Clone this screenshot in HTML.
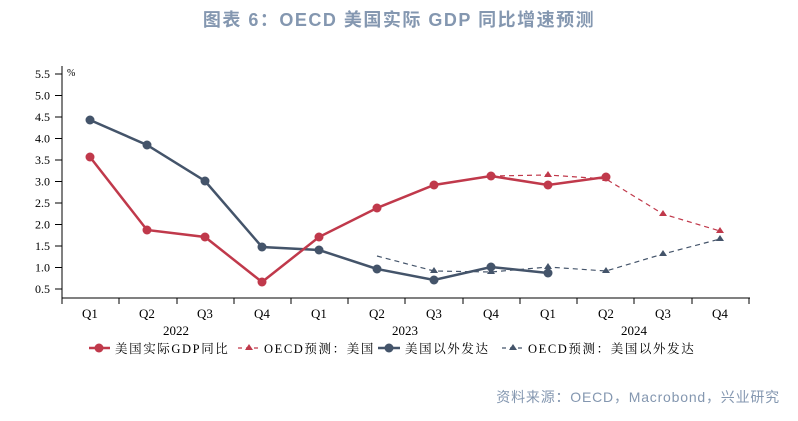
<!DOCTYPE html>
<html><head><meta charset="utf-8"><style>
body{margin:0;background:#fff;width:798px;height:416px;overflow:hidden}
text{font-family:"Liberation Serif","Noto Serif CJK SC",serif}
</style></head><body>
<svg width="798" height="416" xmlns="http://www.w3.org/2000/svg">
<text x="399" y="26" text-anchor="middle" font-size="18" font-weight="bold" fill="#8497b0" letter-spacing="1.5" style="font-family:'Liberation Sans','Noto Sans CJK SC',sans-serif">图表 6：OECD 美国实际 GDP 同比增速预测</text>
<g stroke="#000" stroke-width="1">
<line x1="62" y1="66" x2="62" y2="298"/>
<line x1="62" y1="298" x2="750" y2="298"/>
<line x1="55" y1="74" x2="62" y2="74"/><line x1="55" y1="95.5" x2="62" y2="95.5"/><line x1="55" y1="117" x2="62" y2="117"/><line x1="55" y1="138.5" x2="62" y2="138.5"/><line x1="55" y1="160" x2="62" y2="160"/><line x1="55" y1="181.5" x2="62" y2="181.5"/><line x1="55" y1="203" x2="62" y2="203"/><line x1="55" y1="224.5" x2="62" y2="224.5"/><line x1="55" y1="246" x2="62" y2="246"/><line x1="55" y1="267.5" x2="62" y2="267.5"/><line x1="55" y1="289" x2="62" y2="289"/>
<line x1="62" y1="298" x2="62" y2="304"/><line x1="119" y1="298" x2="119" y2="304"/><line x1="177" y1="298" x2="177" y2="304"/><line x1="234" y1="298" x2="234" y2="304"/><line x1="291" y1="298" x2="291" y2="304"/><line x1="348" y1="298" x2="348" y2="304"/><line x1="405" y1="298" x2="405" y2="304"/><line x1="463" y1="298" x2="463" y2="304"/><line x1="520" y1="298" x2="520" y2="304"/><line x1="577" y1="298" x2="577" y2="304"/><line x1="634" y1="298" x2="634" y2="304"/><line x1="692" y1="298" x2="692" y2="304"/><line x1="749" y1="298" x2="749" y2="304"/>
</g>
<g font-size="12" text-anchor="end" fill="#000">
<text x="50" y="78">5.5</text><text x="50" y="99.5">5.0</text><text x="50" y="121">4.5</text><text x="50" y="142.5">4.0</text><text x="50" y="164">3.5</text><text x="50" y="185.5">3.0</text><text x="50" y="207">2.5</text><text x="50" y="228.5">2.0</text><text x="50" y="250">1.5</text><text x="50" y="271.5">1.0</text><text x="50" y="293">0.5</text>
</g>
<text x="67" y="76" font-size="10">%</text>
<g font-size="13" text-anchor="middle">
<text x="90" y="318">Q1</text><text x="147" y="318">Q2</text><text x="205" y="318">Q3</text><text x="262" y="318">Q4</text><text x="319" y="318">Q1</text><text x="377" y="318">Q2</text><text x="434" y="318">Q3</text><text x="491" y="318">Q4</text><text x="548" y="318">Q1</text><text x="606" y="318">Q2</text><text x="663" y="318">Q3</text><text x="720" y="318">Q4</text>
<text x="176" y="335">2022</text><text x="405" y="335">2023</text><text x="634" y="335">2024</text>
</g>
<polyline fill="none" stroke="#44546a" stroke-width="1.2" stroke-dasharray="5,4" points="377,256 434,271 491,272 548,267 606,271 663,254 720,239"/>
<g fill="#44546a"><path d="M434,267l4,6h-8z"/><path d="M491,268l4,6h-8z"/><path d="M548,263l4,6h-8z"/><path d="M606,267l4,6h-8z"/><path d="M663,250l4,6h-8z"/><path d="M720,235l4,6h-8z"/></g>
<polyline fill="none" stroke="#c0394b" stroke-width="1.2" stroke-dasharray="5,4" points="491,176 548,175 606,179 663,214 720,231"/>
<g fill="#c0394b"><path d="M491,172l4,6h-8z"/><path d="M548,171l4,6h-8z"/><path d="M606,175l4,6h-8z"/><path d="M663,210l4,6h-8z"/><path d="M720,227l4,6h-8z"/></g>
<polyline fill="none" stroke="#44546a" stroke-width="2.5" points="90,120 147,145 205,181 262,247 319,250 377,269 434,280 491,267 548,273"/>
<g fill="#44546a"><circle cx="90" cy="120" r="4.5"/><circle cx="147" cy="145" r="4.5"/><circle cx="205" cy="181" r="4.5"/><circle cx="262" cy="247" r="4.5"/><circle cx="319" cy="250" r="4.5"/><circle cx="377" cy="269" r="4.5"/><circle cx="434" cy="280" r="4.5"/><circle cx="491" cy="267" r="4.5"/><circle cx="548" cy="273" r="4.5"/></g>
<polyline fill="none" stroke="#c0394b" stroke-width="2.5" points="90,157 147,230 205,237 262,282 319,237 377,208 434,185 491,176 548,185 606,177"/>
<g fill="#c0394b"><circle cx="90" cy="157" r="4.5"/><circle cx="147" cy="230" r="4.5"/><circle cx="205" cy="237" r="4.5"/><circle cx="262" cy="282" r="4.5"/><circle cx="319" cy="237" r="4.5"/><circle cx="377" cy="208" r="4.5"/><circle cx="434" cy="185" r="4.5"/><circle cx="491" cy="176" r="4.5"/><circle cx="548" cy="185" r="4.5"/><circle cx="606" cy="177" r="4.5"/></g>
<g font-size="12.5" letter-spacing="1.6">
<line x1="89" y1="348" x2="110" y2="348" stroke="#c0394b" stroke-width="2.5"/><circle cx="99" cy="348" r="4.5" fill="#c0394b"/>
<text x="115" y="353">美国实际GDP同比</text>
<line x1="238" y1="348" x2="260" y2="348" stroke="#c0394b" stroke-width="1.2" stroke-dasharray="4,4"/><path d="M249,344l4,6h-8z" fill="#c0394b"/>
<text x="264" y="353">OECD预测：美国</text>
<line x1="378" y1="348" x2="400" y2="348" stroke="#44546a" stroke-width="2.5"/><circle cx="389" cy="348" r="4.5" fill="#44546a"/>
<text x="405" y="353">美国以外发达</text>
<line x1="502" y1="348" x2="524" y2="348" stroke="#44546a" stroke-width="1.2" stroke-dasharray="4,4"/><path d="M513,344l4,6h-8z" fill="#44546a"/>
<text x="528" y="353">OECD预测：美国以外发达</text>
</g>
<text x="780" y="402" text-anchor="end" font-size="14" fill="#8497b0" letter-spacing="0.8" style="font-family:'Liberation Sans','Noto Sans CJK SC',sans-serif">资料来源：OECD，Macrobond，兴业研究</text>
</svg>
</body></html>
